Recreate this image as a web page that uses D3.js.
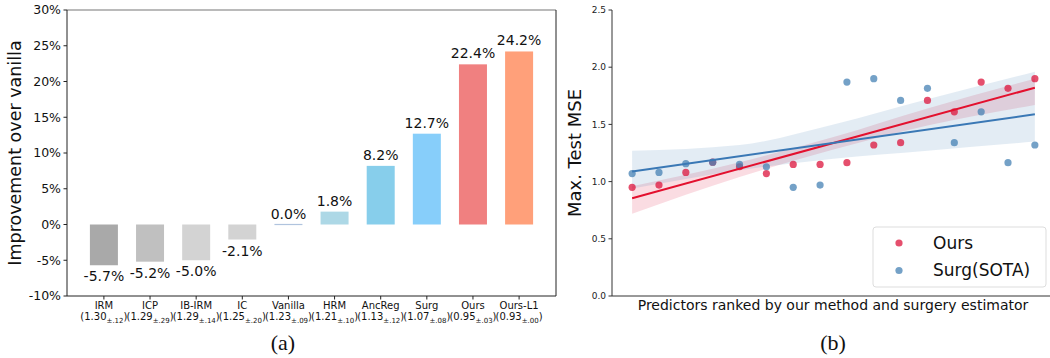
<!DOCTYPE html>
<html lang="en">
<head>
<meta charset="UTF-8">
<title>Improvement and ranking</title>
<script src="https://d3js.org/d3.v7.min.js"></script>
<style>
    body { margin: 0; background: white; }
    svg text { font-family: "DejaVu Sans", sans-serif; }
    .caption { font-family: "Liberation Serif", "DejaVu Serif", serif !important; font-size: 22px; }
</style>
</head>
<body>
<svg id="chart" width="1050" height="358"></svg>
<script>
    // (a) bar chart data
    const methods = ["IRM", "ICP", "IB-IRM", "IC", "Vanilla", "HRM", "AncReg", "Surg", "Ours", "Ours-L1"];
    const mseMean = ["1.30", "1.29", "1.29", "1.25", "1.23", "1.21", "1.13", "1.07", "0.95", "0.93"];
    const mseStd = [".12", ".29", ".14", ".20", ".09", ".10", ".12", ".08", ".03", ".00"];
    const improvement = [-5.7, -5.2, -5.0, -2.1, 0.0, 1.8, 8.2, 12.7, 22.4, 24.2];
    const barColors = ["#a9a9a9", "#c0c0c0", "#d3d3d3", "#d3d3d3", "#b0c4de", "#add8e6", "#87ceeb", "#87cefa", "#f08080", "#ffa07a"];
    const yTicksA = [-10, -5, 0, 5, 10, 15, 20, 25, 30];

    // (b) scatter + regression data
    const oursMse = [0.95, 0.97, 1.08, 1.17, 1.13, 1.07, 1.15, 1.15, 1.165, 1.32, 1.34, 1.71, 1.61, 1.87, 1.815, 1.90];
    const surgMse = [1.07, 1.08, 1.157, 1.17, 1.15, 1.13, 0.95, 0.97, 1.87, 1.90, 1.71, 1.815, 1.34, 1.61, 1.165, 1.32];
    const bandIdx = [0, 4, 7.5, 11, 15];
    const oursLo = [0.72, 1.04, 1.28, 1.49, 1.67];
    const oursHi = [0.96, 1.17, 1.39, 1.64, 1.90];
    const surgLo = [0.94, 1.10, 1.20, 1.27, 1.35];
    const surgHi = [1.27, 1.32, 1.50, 1.72, 1.96];
    const yTicksB = [0, 0.5, 1.0, 1.5, 2.0, 2.5];

    const svg = d3.select("#chart");

    // ---------- panel (a) ----------
    const xa = d3.scaleLinear().domain([-0.8, 9.8]).range([67, 556]);
    const ya = d3.scaleLinear().domain([-10, 30]).range([296, 10]);
    const ga = svg.append("g");

    ga.selectAll(".bar")
        .data(improvement)
        .enter().append("rect")
        .attr("class", "bar")
        .attr("x", (d, i) => xa(i) - 14)
        .attr("width", 28)
        .attr("y", d => d === 0 ? ya(0) - 0.6 : ya(Math.max(0, d)))
        .attr("height", d => d === 0 ? 1.2 : Math.abs(ya(d) - ya(0)))
        .attr("fill", (d, i) => barColors[i]);

    ga.selectAll(".val")
        .data(improvement)
        .enter().append("text")
        .attr("x", (d, i) => xa(i))
        .attr("y", d => d < 0 ? ya(d) + 16 : ya(d) - 6)
        .attr("text-anchor", "middle")
        .attr("font-size", 14)
        .attr("fill", "#111")
        .text(d => d.toFixed(1) + "%");

    // spines
    ga.append("line").attr("x1", 67).attr("x2", 556).attr("y1", 10).attr("y2", 10).attr("stroke", "#777").attr("stroke-width", 1.2);
    ga.append("line").attr("x1", 556).attr("x2", 556).attr("y1", 10).attr("y2", 296).attr("stroke", "#222");
    ga.append("line").attr("x1", 67).attr("x2", 67).attr("y1", 10).attr("y2", 296).attr("stroke", "#222");
    ga.append("line").attr("x1", 67).attr("x2", 556).attr("y1", 296).attr("y2", 296).attr("stroke", "#222");

    const yaTick = ga.selectAll(".yta").data(yTicksA).enter().append("g");
    yaTick.append("line").attr("x1", 63.5).attr("x2", 67).attr("y1", d => ya(d)).attr("y2", d => ya(d)).attr("stroke", "#222");
    yaTick.append("text")
        .attr("x", 61).attr("y", d => ya(d)).attr("dy", "0.35em")
        .attr("text-anchor", "end").attr("font-size", 12.5).attr("fill", "#111")
        .text(d => d + "%");

    const xaTick = ga.selectAll(".xta").data(methods).enter().append("g");
    xaTick.append("line").attr("x1", (d, i) => xa(i)).attr("x2", (d, i) => xa(i)).attr("y1", 296).attr("y2", 299.5).attr("stroke", "#222");
    xaTick.append("text")
        .attr("x", (d, i) => xa(i)).attr("y", 309)
        .attr("text-anchor", "middle").attr("font-size", 10).attr("fill", "#111")
        .text(d => d);
    const sub = xaTick.append("text")
        .attr("x", (d, i) => xa(i)).attr("y", 320)
        .attr("text-anchor", "middle").attr("font-size", 10).attr("fill", "#111");
    sub.append("tspan").text((d, i) => "(" + mseMean[i]);
    sub.append("tspan").attr("font-size", 7).attr("dy", 2.5).text((d, i) => "\u00b1" + mseStd[i]);
    sub.append("tspan").attr("dy", -2.5).text(")");

    ga.append("text")
        .attr("transform", "translate(21,153) rotate(-90)")
        .attr("text-anchor", "middle").attr("font-size", 17.5).attr("fill", "#111")
        .text("Improvement over vanilla");

    svg.append("text").attr("class", "caption")
        .attr("x", 283).attr("y", 350).attr("text-anchor", "middle").attr("fill", "#111")
        .text("(a)");

    // ---------- panel (b) ----------
    const xb = d3.scaleLinear().domain([-0.75, 15.75]).range([612, 1055]);
    const yb = d3.scaleLinear().domain([0, 2.5]).range([296, 10]);
    const gb = svg.append("g");

    function fit(vals) {
        const n = vals.length;
        const mx = d3.mean(vals, (d, i) => i), my = d3.mean(vals);
        let sxy = 0, sxx = 0;
        vals.forEach((v, i) => { sxy += (i - mx) * (v - my); sxx += (i - mx) * (i - mx); });
        const b = sxy / sxx;
        return [0, n - 1].map(i => [i, my + b * (i - mx)]);
    }

    const area = (lo, hi) => d3.area()
        .x((d, k) => xb(bandIdx[k]))
        .y0((d, k) => yb(lo[k]))
        .y1((d, k) => yb(hi[k]))
        .curve(d3.curveMonotoneX)(bandIdx);

    gb.append("path").attr("d", area(oursLo, oursHi)).attr("fill", "#dc143c").attr("fill-opacity", 0.15);
    gb.append("path").attr("d", area(surgLo, surgHi)).attr("fill", "#4682b4").attr("fill-opacity", 0.15);

    gb.selectAll(".pOurs").data(oursMse).enter().append("circle")
        .attr("cx", (d, i) => xb(i)).attr("cy", d => yb(d)).attr("r", 3.6)
        .attr("fill", "#dc143c").attr("fill-opacity", 0.75);
    gb.selectAll(".pSurg").data(surgMse).enter().append("circle")
        .attr("cx", (d, i) => xb(i)).attr("cy", d => yb(d)).attr("r", 3.6)
        .attr("fill", "#4682b4").attr("fill-opacity", 0.75);

    const line = d3.line().x(d => xb(d[0])).y(d => yb(d[1]));
    gb.append("path").attr("d", line(fit(oursMse))).attr("stroke", "#e3102e").attr("stroke-width", 2).attr("fill", "none");
    gb.append("path").attr("d", line(fit(surgMse))).attr("stroke", "#3a78b5").attr("stroke-width", 2).attr("fill", "none");

    gb.append("line").attr("x1", 612).attr("x2", 1050).attr("y1", 296).attr("y2", 296).attr("stroke", "#333");
    gb.append("line").attr("x1", 612).attr("x2", 612).attr("y1", 10).attr("y2", 296).attr("stroke", "#333");

    const ybTick = gb.selectAll(".ytb").data(yTicksB).enter().append("g");
    ybTick.append("line").attr("x1", 608.5).attr("x2", 612).attr("y1", d => yb(d)).attr("y2", d => yb(d)).attr("stroke", "#333");
    ybTick.append("text")
        .attr("x", 606).attr("y", d => yb(d)).attr("dy", "0.35em")
        .attr("text-anchor", "end").attr("font-size", 9).attr("fill", "#222")
        .text(d => d.toFixed(1));

    gb.append("text")
        .attr("transform", "translate(581,153) rotate(-90)")
        .attr("text-anchor", "middle").attr("font-size", 18).attr("fill", "#111")
        .text("Max. Test MSE");
    gb.append("text")
        .attr("x", 833).attr("y", 310)
        .attr("text-anchor", "middle").attr("font-size", 14).attr("fill", "#111")
        .text("Predictors ranked by our method and surgery estimator");

    // legend
    const leg = gb.append("g");
    leg.append("rect").attr("x", 873).attr("y", 227).attr("width", 173).attr("height", 60).attr("rx", 3)
        .attr("fill", "white").attr("fill-opacity", 0.8).attr("stroke", "#ddd");
    const legItems = [["Ours", "#dc143c"], ["Surg(SOTA)", "#4682b4"]];
    legItems.forEach((it, k) => {
        leg.append("circle").attr("cx", 899).attr("cy", 243 + k * 27.5).attr("r", 3.6)
            .attr("fill", it[1]).attr("fill-opacity", 0.75);
        leg.append("text").attr("x", 933).attr("y", 243 + k * 27.5).attr("dy", "0.35em")
            .attr("font-size", 17).attr("fill", "#111").text(it[0]);
    });

    svg.append("text").attr("class", "caption")
        .attr("x", 833).attr("y", 350).attr("text-anchor", "middle").attr("fill", "#111")
        .text("(b)");
</script>
</body>
</html>
